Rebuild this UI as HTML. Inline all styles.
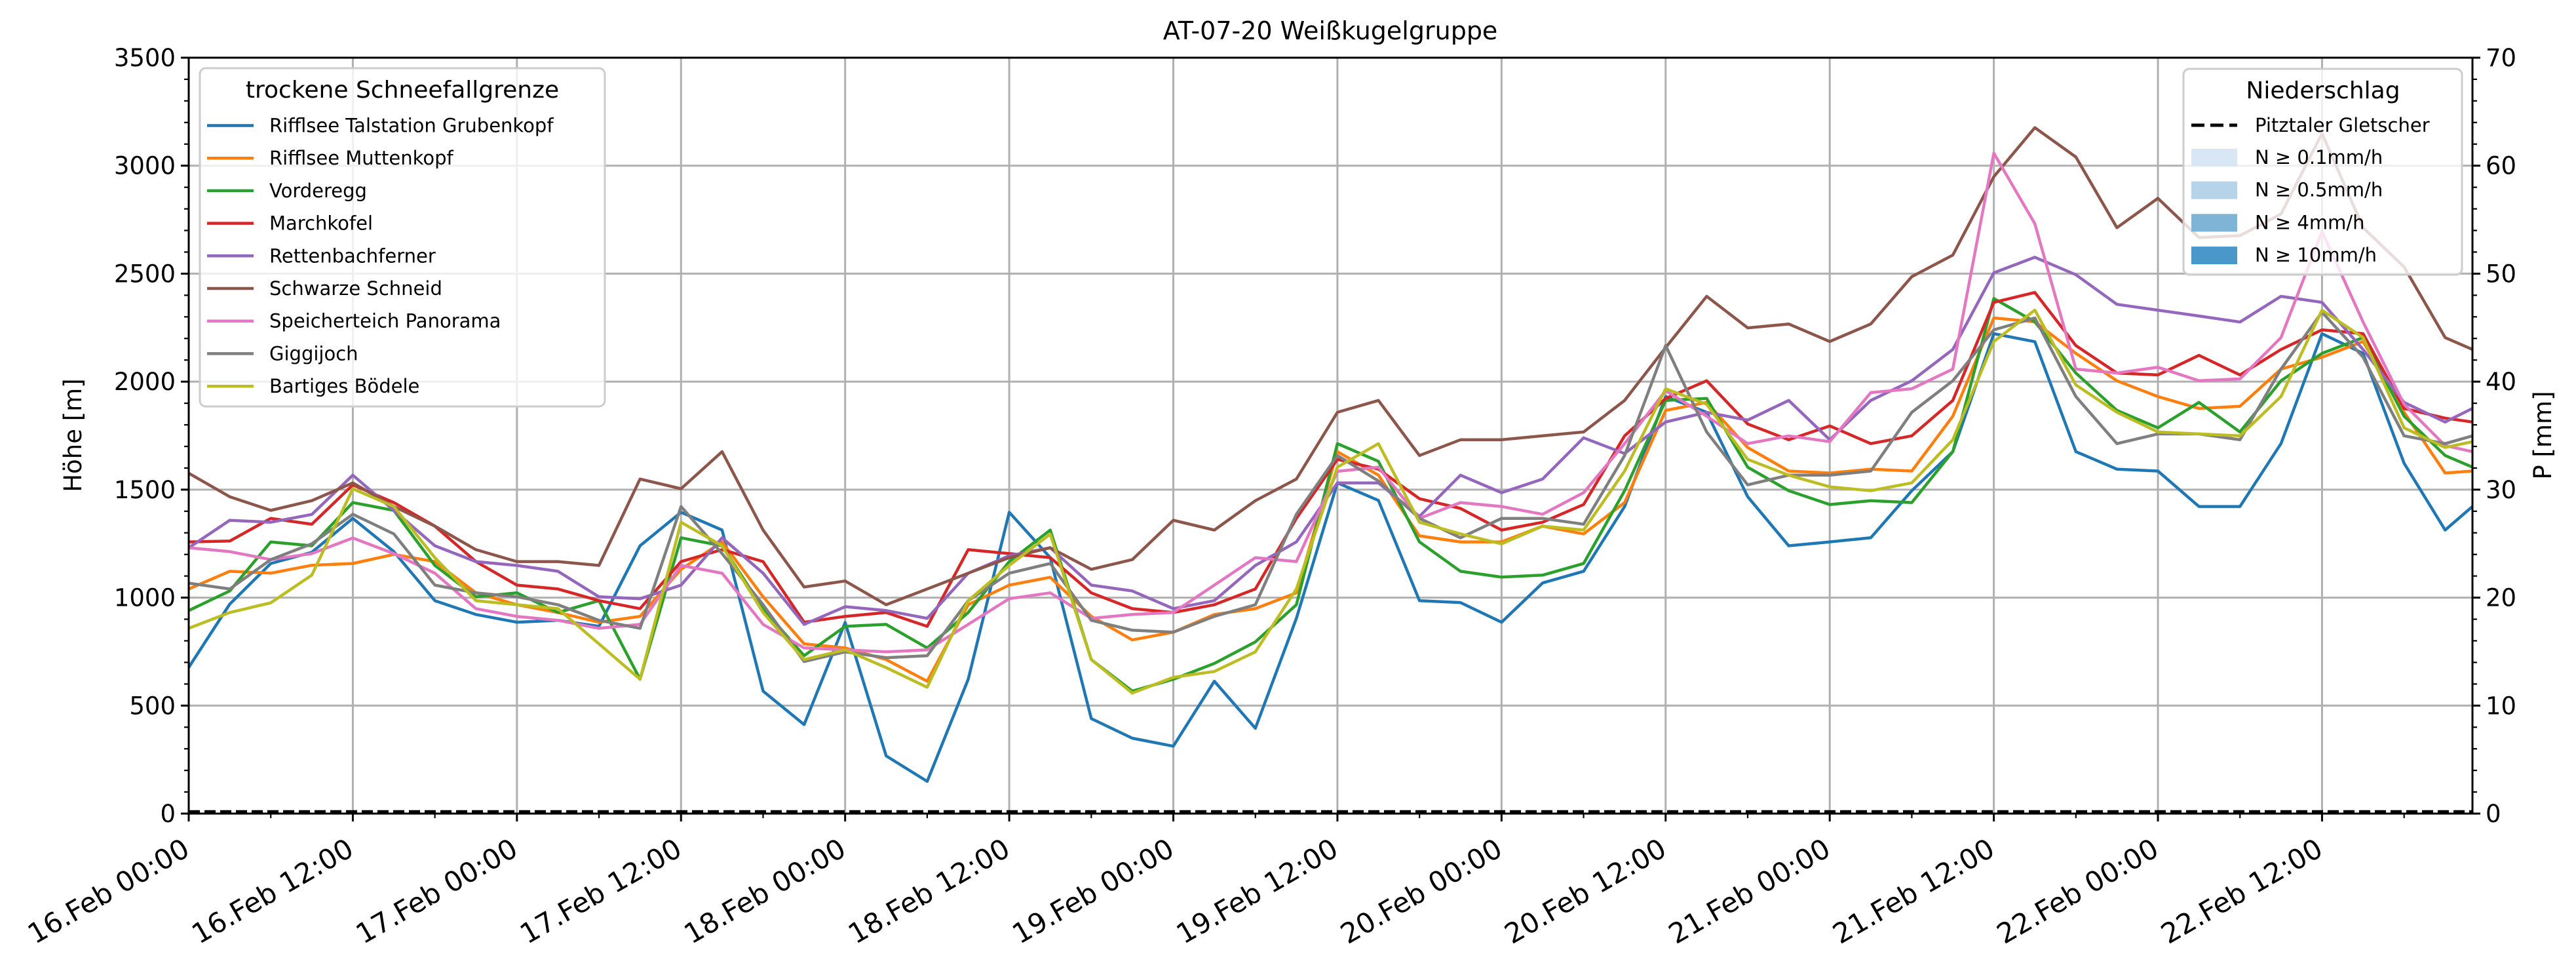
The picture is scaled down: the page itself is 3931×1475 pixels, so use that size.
<!DOCTYPE html>
<html><head><meta charset="utf-8"><style>
html,body{margin:0;padding:0;background:#fff;}
svg{display:block;font-family:"DejaVu Sans","Liberation Sans",sans-serif;}
</style></head><body>
<svg id="chart" xmlns="http://www.w3.org/2000/svg" width="3931" height="1475" viewBox="0 0 3931 1475">
<rect x="0" y="0" width="3931" height="1475" fill="#fff"/>
<text x="2030" y="60" font-size="38" text-anchor="middle">AT-07-20 Weißkugelgruppe</text>
<g id="grid"></g>
<g id="series"></g>
<g id="axes"></g>
<text transform="translate(124,664) rotate(-90)" font-size="37" text-anchor="middle">Höhe [m]</text>
<text transform="translate(3893,664) rotate(-90)" font-size="37" text-anchor="middle">P [mm]</text>
<g id="legend1"></g>
<g id="legend2"></g>
</svg>
<script>
const hours = [0,3,6,9,12,15,18,21,24,27,30,33,36,39,42,45,48,51,54,57,60,63,66,69,72,75,78,81,84,87,90,93,96,99,102,105,108,111,114,117,120,123,126,129,132,135,138,141,144,147,150,153,156,159,162,165,167];
const seriesNames = ["Rifflsee Talstation Grubenkopf","Rifflsee Muttenkopf","Vorderegg","Marchkofel","Rettenbachferner","Schwarze Schneid","Speicherteich Panorama","Giggijoch","Bartiges Bödele"];
const blueVals = [677,970,1158,1210,1367,1213,986,922,886,895,867,1240,1395,1313,567,412,885,267,149,622,1395,1185,440,349,312,613,395,904,1531,1450,986,977,886,1068,1122,1422,1931,1858,1467,1240,1258,1277,1495,1676,2222,2185,1676,1595,1586,1422,1422,1713,2222,2131,1622,1313,1422];
const orangeVals = [1040,1122,1113,1150,1158,1200,1167,1022,967,931,886,913,1131,1258,1004,786,767,713,613,967,1058,1094,913,804,840,922,949,1022,1676,1567,1286,1258,1258,1331,1295,1440,1867,1904,1695,1586,1577,1595,1586,1840,2295,2277,2131,2004,1931,1876,1886,2058,2113,2186,1858,1577,1586];
const greenVals = [940,1031,1258,1240,1440,1404,1149,1004,1022,931,986,622,1277,1240,949,731,867,876,767,931,1167,1313,713,567,622,695,795,967,1713,1631,1258,1122,1095,1104,1158,1495,1913,1922,1604,1495,1431,1449,1440,1676,2385,2277,2040,1867,1786,1904,1767,2004,2131,2204,1840,1658,1604];
const redVals = [1258,1262,1367,1340,1522,1440,1331,1167,1058,1040,986,949,1167,1222,1167,886,913,931,867,1222,1204,1185,1022,949,931,967,1040,1367,1640,1595,1458,1413,1313,1349,1431,1749,1922,2004,1804,1731,1795,1713,1749,1913,2367,2413,2167,2040,2031,2122,2031,2149,2240,2222,1876,1831,1813];
const purpleVals = [1231,1358,1349,1385,1567,1404,1240,1167,1149,1122,1004,995,1058,1277,1113,876,958,940,904,1113,1194,1231,1058,1031,949,986,1149,1258,1531,1531,1376,1567,1486,1549,1740,1667,1813,1858,1822,1913,1731,1913,2004,2149,2504,2576,2495,2358,2331,2304,2276,2395,2367,2149,1904,1813,1876];
const brownVals = [1576,1467,1404,1449,1531,1422,1331,1222,1167,1167,1149,1549,1504,1676,1313,1049,1077,967,1040,1113,1185,1231,1131,1176,1358,1313,1449,1549,1858,1913,1658,1731,1731,1749,1767,1913,2158,2395,2249,2267,2186,2267,2486,2586,2949,3176,3040,2713,2849,2667,2676,2776,3149,2713,2531,2204,2149];
const pinkVals = [1231,1213,1176,1204,1276,1204,1113,949,913,895,858,876,1149,1113,876,767,758,749,758,876,995,1022,904,922,931,1058,1185,1167,1585,1604,1367,1440,1422,1386,1486,1713,1958,1840,1713,1749,1722,1949,1967,2058,3058,2731,2058,2040,2067,2004,2013,2204,2695,2276,1895,1704,1676];
const grayVals = [1067,1040,1176,1249,1386,1295,1058,1022,1004,967,895,858,1422,1204,967,704,749,722,731,986,1113,1158,895,849,840,913,967,1386,1658,1540,1367,1277,1367,1367,1340,1658,2167,1767,1522,1567,1567,1586,1858,2004,2240,2295,1931,1713,1758,1758,1731,2058,2322,2113,1749,1713,1749];
const oliveVals = [858,931,976,1104,1504,1422,1185,986,967,949,786,622,1349,1240,931,713,758,676,585,986,1149,1294,713,558,631,658,749,1040,1604,1713,1349,1295,1249,1331,1313,1586,1967,1895,1640,1567,1513,1495,1531,1731,2186,2331,1985,1858,1767,1758,1749,1931,2331,2204,1786,1695,1722];
const precipVals = [0,0,0,0,0,0,0,0,0,0,0,0,0,0,0,0,0,0,0,0,0,0,0,0,0,0,0,0,0,0,0,0,0,0,0,0,0,0,0,0,0,0,0,0,0,0,0,0,0,0,0,0,0,0,0,0,0];
const xTickLabels = ["16.Feb 00:00","16.Feb 12:00","17.Feb 00:00","17.Feb 12:00","18.Feb 00:00","18.Feb 12:00","19.Feb 00:00","19.Feb 12:00","20.Feb 00:00","20.Feb 12:00","21.Feb 00:00","21.Feb 12:00","22.Feb 00:00","22.Feb 12:00"];
const yTicks = [0,500,1000,1500,2000,2500,3000,3500];
const y2Ticks = [0,10,20,30,40,50,60,70];
const precipLabels = ["N ≥ 0.1mm/h","N ≥ 0.5mm/h","N ≥ 4mm/h","N ≥ 10mm/h"];

const NS="http://www.w3.org/2000/svg";
const L=288,R=3773,T=88,B=1241,HMAX=167;
const xs=h=>L+(h/HMAX)*(R-L);
const ys=v=>B-(v/3500)*(B-T);
const y2s=v=>B-(v/70)*(B-T);
function mk(tag,attrs,parent){const e=document.createElementNS(NS,tag);for(const k in attrs)e.setAttribute(k,attrs[k]);parent.appendChild(e);return e;}
const grid=document.getElementById('grid'),ser=document.getElementById('series'),ax=document.getElementById('axes');

for(let i=0;i<xTickLabels.length;i++){const x=xs(i*12);
 const g=mk('line',{x1:x,x2:x,y1:T,y2:B,stroke:'#b0b0b0','stroke-width':3},grid);
 
 }
yTicks.forEach(v=>{const y=ys(v);
 const g=mk('line',{x1:L,x2:R,y1:y,y2:y,stroke:'#b0b0b0','stroke-width':3},grid);
 
 });

const colors=['#1f77b4','#ff7f0e','#2ca02c','#d62728','#9467bd','#8c564b','#e377c2','#7f7f7f','#bcbd22'];
const allVals=[blueVals,orangeVals,greenVals,redVals,purpleVals,brownVals,pinkVals,grayVals,oliveVals];
allVals.forEach((vals,i)=>{
 const d=vals.map((v,j)=>(j?'L':'M')+xs(hours[j]).toFixed(1)+','+ys(v).toFixed(1)).join(' ');
 const p=mk('path',{d:d,fill:'none',stroke:colors[i],'stroke-width':4.5,'stroke-linejoin':'round'},ser);
 
 
});
{const d=precipVals.map((v,j)=>(j?'L':'M')+xs(hours[j]).toFixed(1)+','+(y2s(v)-3).toFixed(1)).join(' ');
 const p=mk('path',{d:d,fill:'none',stroke:'#000','stroke-width':4.5,'stroke-dasharray':'17,7'},ser);
 
 }

{const f=mk('rect',{x:L,y:T,width:R-L,height:B-T,fill:'none',stroke:'#000','stroke-width':3},ax);
 
 }
for(let v=0;v<=3500;v+=100){const y=ys(v);const major=v%500===0;
 mk('line',{x1:L,x2:L-(major?12:7),y1:y,y2:y,stroke:'#000','stroke-width':major?3:2.2},ax);}
yTicks.forEach(v=>{const t=mk('text',{x:L-20,y:ys(v)+13,'font-size':37,'text-anchor':'end'},ax);t.textContent=v;
 
 });
for(let v=0;v<=70;v+=2){const y=y2s(v);const major=v%10===0;
 mk('line',{x1:R,x2:R+(major?12:7),y1:y,y2:y,stroke:'#000','stroke-width':major?3:2.2},ax);}
y2Ticks.forEach(v=>{const t=mk('text',{x:R+20,y:y2s(v)+13,'font-size':37,'text-anchor':'start'},ax);t.textContent=v;
 
 });
for(let h=0;h<=HMAX;h+=6){const x=xs(h);const major=h%12===0;
 mk('line',{x1:x,x2:x,y1:B,y2:B+(major?12:7),stroke:'#000','stroke-width':major?3:2.2},ax);}
xTickLabels.forEach((s,i)=>{const x=xs(i*12);
 const t=mk('text',{transform:`translate(${x+4},1303) rotate(-30)`,'font-size':42,'text-anchor':'end'},ax);t.textContent=s;
 
 });

const lg1=document.getElementById('legend1');
mk('rect',{x:305,y:104,width:618,height:516,rx:9,fill:'#fff','fill-opacity':0.8,stroke:'#cccccc','stroke-width':3},lg1);
{const t=mk('text',{x:614,y:149,'font-size':36,'text-anchor':'middle'},lg1);t.textContent='trockene Schneefallgrenze';
 
 }
seriesNames.forEach((n,i)=>{const y=191.5+i*49.7;
 const g=mk('g',{},lg1);
 
 
 mk('line',{x1:316,x2:387,y1:y,y2:y,stroke:colors[i],'stroke-width':4.5},g);
 const t=mk('text',{x:411,y:y+10,'font-size':29},g);t.textContent=n;});

const lg2=document.getElementById('legend2');
mk('rect',{x:3332,y:105,width:425,height:314,rx:9,fill:'#fff','fill-opacity':0.8,stroke:'#cccccc','stroke-width':3},lg2);
{const t=mk('text',{x:3545,y:150,'font-size':36,'text-anchor':'middle'},lg2);t.textContent='Niederschlag';
 
 }
{const g=mk('g',{},lg2);
 
 
 mk('line',{x1:3344,x2:3414,y1:191,y2:191,stroke:'#000','stroke-width':5,'stroke-dasharray':'20,9'},g);
 const t=mk('text',{x:3441,y:201,'font-size':29},g);t.textContent='Pitztaler Gletscher';}
const pcols=['#d9e7f4','#b7d3ea','#7fb4d7','#4a98c9'];
precipLabels.forEach((s,i)=>{const y=240+i*49.7;
 const g=mk('g',{},lg2);
 
 
 mk('rect',{x:3344,y:y-13,width:70,height:27,fill:pcols[i]},g);
 const t=mk('text',{x:3441,y:y+10,'font-size':29},g);t.textContent=s;});
</script>
</body></html>
